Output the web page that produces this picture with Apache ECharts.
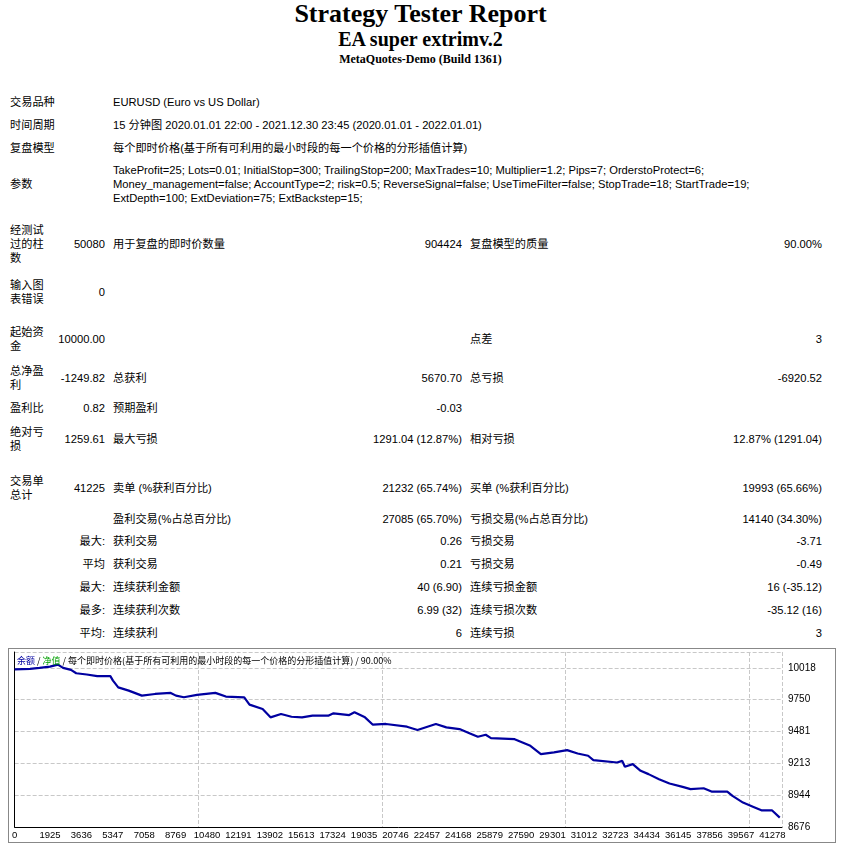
<!DOCTYPE html>
<html><head><meta charset="utf-8">
<script src="https://cdn.jsdelivr.net/npm/echarts@6/dist/echarts.min.js"></script>
<style>
body{margin:0;background:#fff;width:841px;height:849px;position:relative;overflow:hidden;font-family:"Liberation Sans","Noto Sans CJK SC",sans-serif;font-size:11.2px;color:#000}
.t{position:absolute;left:0;width:841px;text-align:center;font-family:"Liberation Serif","DejaVu Serif",serif;font-weight:bold}
.c{position:absolute;display:flex;align-items:center;line-height:14px}
.r{justify-content:flex-end;text-align:right}
#chart{position:absolute;left:8px;top:648px;width:828px;height:195px;border:1px solid #888;box-sizing:border-box}
</style></head><body>
<div class="t" style="top:-1px;font-size:26px">Strategy Tester Report</div>
<div class="t" style="top:28px;font-size:20px">EA super extrimv.2</div>
<div class="t" style="top:52px;font-size:12px">MetaQuotes-Demo (Build 1361)</div>
<div id="rows"></div>
<div id="chart"></div>
<script>
// chart data
const xTickLabels=[0,1925,3636,5347,7058,8769,10480,12191,13902,15613,17324,19035,20746,22457,24168,25879,27590,29301,31012,32723,34434,36145,37856,39567,41278];
const yTickLabels=[8676,8944,9213,9481,9750,10018];
const trades=[0,840,1353,1925,2354,2640,3069,3355,3927,4499,5214,5357,5643,6215,6930,7645,8503,8789,9218,9933,10934,11506,12507,12793,13508,13937,14509,15081,15653,16225,17083,17369,18226,18512,19084,19513,20228,21372,21944,22945,23517,24232,24804,25233,25662,25948,27235,27664,28093,28665,29380,30095,30667,31239,31525,32812,33098,33241,33670,34099,34528,35100,35672,36387,36816,37531,37960,38818,39104,39676,40248,40677,41249,41678];
const balance=[10005,10010,10018,10029,10046,10018,10001,9973,9962,9948,9948,9911,9854,9826,9784,9798,9807,9784,9770,9790,9807,9776,9770,9708,9671,9601,9629,9606,9601,9615,9615,9635,9620,9643,9601,9539,9545,9522,9494,9545,9516,9502,9465,9437,9454,9426,9417,9389,9361,9291,9305,9324,9296,9277,9240,9220,9234,9184,9206,9150,9122,9079,9043,9014,8995,9003,8975,8975,8938,8882,8845,8817,8817,8755];

// report rows: [top, height, col1, col2, col3, col4, col5, col6]
const rows=[
[95,14,'交易品种','','EURUSD (Euro vs US Dollar)','','',''],
[118,14,'时间周期','','15 分钟图 2020.01.01 22:00 - 2021.12.30 23:45 (2020.01.01 - 2022.01.01)','','',''],
[141,14,'复盘模型','','每个即时价格(基于所有可利用的最小时段的每一个价格的分形插值计算)','','',''],
[163,42,'参数','','TakeProfit=25; Lots=0.01; InitialStop=300; TrailingStop=200; MaxTrades=10; Multiplier=1.2; Pips=7; OrderstoProtect=6; Money_management=false; AccountType=2; risk=0.5; ReverseSignal=false; UseTimeFilter=false; StopTrade=18; StartTrade=19; ExtDepth=100; ExtDeviation=75; ExtBackstep=15;','','',''],
[222,44,'经测试过的柱数','50080','用于复盘的即时价数量','904424','复盘模型的质量','90.00%'],
[277,30,'输入图表错误','0','','','',''],
[324,30,'起始资金','10000.00','','','点差','3'],
[363,30,'总净盈利','-1249.82','总获利','5670.70','总亏损','-6920.52'],
[401,14,'盈利比','0.82','预期盈利','-0.03','',''],
[424,30,'绝对亏损','1259.61','最大亏损','1291.04 (12.87%)','相对亏损','12.87% (1291.04)'],
[473,30,'交易单总计','41225','卖单 (%获利百分比)','21232 (65.74%)','买单 (%获利百分比)','19993 (65.66%)'],
[512,14,'','','盈利交易(%占总百分比)','27085 (65.70%)','亏损交易(%占总百分比)','14140 (34.30%)'],
[534,14,'','最大:','获利交易','0.26','亏损交易','-3.71'],
[557,14,'','平均','获利交易','0.21','亏损交易','-0.49'],
[580,14,'','最大:','连续获利金额','40 (6.90)','连续亏损金额','16 (-35.12)'],
[603,14,'','最多:','连续获利次数','6.99 (32)','连续亏损次数','-35.12 (16)'],
[626,14,'','平均:','连续获利','6','连续亏损','3']
];
const cont=document.getElementById('rows');
function cell(top,h,left,w,txt,right){const d=document.createElement('div');d.className='c'+(right?' r':'');d.style.top=top+'px';d.style.height=h+'px';d.style.left=left+'px';d.style.width=w+'px';d.textContent=txt;cont.appendChild(d);}
rows.forEach(r=>{const [top,h,a,b,c,d,e,f]=r;
 const span=!b&&!d&&!e&&!f&&c;
 cell(top,h,10,span?90:37,a,false);
 if(b)cell(top,h,50,55,b,true);
 if(span){cell(top,h,113,695,c,false);}else if(c){cell(top,h,113,230,c,false);}
 if(d)cell(top,h,300,162,d,true);
 if(e)cell(top,h,470,200,e,false);
 if(f)cell(top,h,650,172,f,true);
});

const ch=echarts.init(document.getElementById('chart'));
ch.setOption({
 animation:false,
 title:{left:3,top:2,text:'{b|余额} / {g|净值} / 每个即时价格(基于所有可利用的最小时段的每一个价格的分形插值计算) / 90.00%',textStyle:{fontSize:9,fontWeight:'normal',color:'#000',fontFamily:'Noto Sans CJK SC',rich:{b:{color:'#0000a0',fontSize:9},g:{color:'#00a000',fontSize:9}}}},
 grid:{left:2,right:53,top:3,bottom:15},
 xAxis:{type:'value',min:0,max:41800,
  axisLine:{lineStyle:{color:'#000'}},axisTick:{show:false},
  axisLabel:{customValues:xTickLabels,fontSize:9.5,color:'#000',margin:3,formatter:v=>String(v)},
  splitLine:{show:true,lineStyle:{type:'dashed',color:'#c8c8c8'}}},
 yAxis:{type:'value',position:'right',min:8676,max:10152,interval:268.4,
  axisLine:{show:true,lineStyle:{color:'#000'}},axisTick:{show:false},
  axisLabel:{fontSize:10,color:'#000',margin:6,formatter:v=>{const m=yTickLabels.find(t=>Math.abs(t-v)<2);return m?String(m):'';}},
  splitLine:{lineStyle:{type:'dashed',color:'#c8c8c8'}}},
 series:[{type:'line',symbol:'none',data:trades.map((t,i)=>[t,balance[i]]),lineStyle:{color:'#0000a0',width:2.2}}]
});
</script></body></html>
